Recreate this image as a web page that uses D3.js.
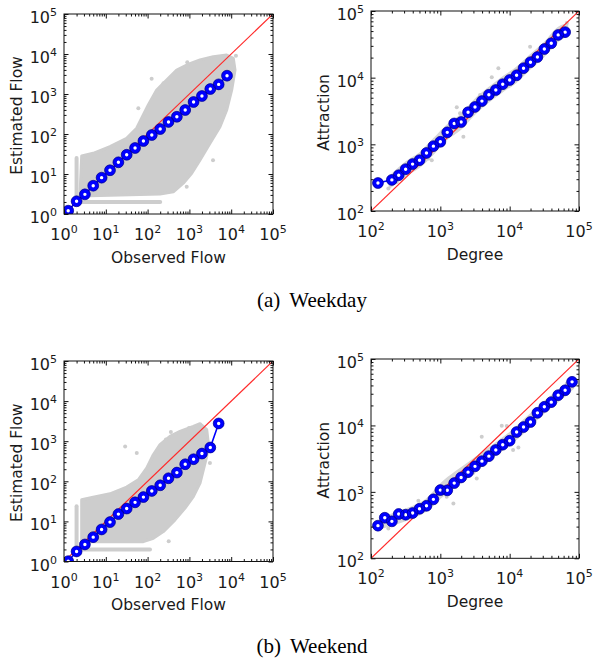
<!DOCTYPE html>
<html>
<head>
<meta charset="utf-8">
<script src="https://cdn.jsdelivr.net/npm/d3@7"></script>
<style>
  body { margin: 0; background: #fff; }
  svg { display: block; }
</style>
</head>
<body>
<div id="chart"></div>
<script>
// 刻度
const flowTicks = [1, 10, 100, 1000, 10000, 100000];
const degreeTicks = [100, 1000, 10000, 100000];

// (a) 平日 - 流量 (log 分箱平均)
const flowBinsX = [1.26, 2.0, 3.16, 5.0, 7.94, 12.6, 20.0, 31.6, 50.1, 79.4, 126, 200, 316, 501, 794, 1259, 1995, 3162, 5012, 7943];
const weekdayFlowY = [1.21, 2.08, 3.1, 5.1, 8.1, 12.4, 19.6, 30.3, 44.7, 66.8, 94.4, 133, 200, 270, 398, 631, 891, 1333, 1740, 2870];

// (a) 平日 - 吸引力
const weekdayDegreeX = [126, 200, 251, 316, 398, 501, 631, 794, 1000, 1259, 1585, 1995, 2512, 3162, 3981, 5012, 6310, 7943, 10000, 12589, 15849, 19953, 25119, 31623, 39811, 50119, 63096];
const weekdayAttrY = [263, 293, 344, 424, 505, 578, 743, 939, 1092, 1512, 2057, 2160, 3030, 3640, 4450, 5540, 6530, 7980, 9230, 10860, 13860, 17050, 20400, 26900, 32800, 43800, 48200];

// (b) 週末 - 流量
const weekendFlowX = [1.26, 2.0, 3.16, 5.0, 7.94, 12.6, 20.0, 31.6, 50.1, 79.4, 126, 200, 316, 501, 794, 1259, 1995, 3162, 5012];
const weekendFlowY = [1.02, 1.78, 2.66, 4.05, 6.3, 9.6, 15.2, 20.9, 29.9, 40.4, 57.4, 79.4, 119, 165, 266, 355, 492, 696, 2770];

// (b) 週末 - 吸引力
const weekendDegreeX = [126, 158, 200, 251, 316, 398, 501, 631, 794, 1000, 1259, 1585, 1995, 2512, 3162, 3981, 5012, 6310, 7943, 10000, 12589, 15849, 19953, 25119, 31623, 39811, 50119, 63096, 79433];
const weekendAttrY = [310, 408, 360, 464, 453, 480, 557, 617, 771, 1064, 1055, 1354, 1648, 1980, 2420, 2900, 3450, 4270, 5130, 5890, 7950, 9450, 11250, 15480, 19060, 22430, 28550, 33850, 45260];

// 灰色散點雲 (輪廓, 資料座標)
const weekdayFlowCloud = [[2.65, 28.2], [5.0, 32.9], [12.6, 48.1], [31.6, 78], [54.8, 139], [78.9, 298], [104, 531], [165, 1259], [286, 2239], [497, 3981], [862, 5309], [1794, 7079], [3733, 8561], [7805, 9441], [11220, 7805], [12330, 3981], [10280, 1259], [7805, 398], [5395, 152], [3110, 58.6], [1794, 22.4], [1135, 10.4], [714, 5.9], [412, 3.6], [198, 3.16], [2.41, 2.82]];
const weekdayFlowStreaks = [[[2, 2], [200, 2]], [[2, 2], [2, 25]]];
const weekdayFlowDots = [[125, 2400], [60, 440], [890, 6200], [2800, 7400], [240, 1850], [3670, 22], [862, 4.8], [13000, 9000]];

const weekendFlowCloud = [[2.65, 34.5], [5.0, 40.3], [12.6, 48.7], [31.6, 71.6], [59.9, 109], [95, 214], [137, 460], [198, 818], [343, 1318], [596, 1758], [1240, 2344], [1794, 2738], [2594, 1939], [2834, 902], [2594, 417], [2153, 194], [1794, 90], [1240, 41.7], [785, 21.4], [453, 10.9], [238, 5.56], [137, 3.8], [79, 3.13], [2.65, 3.13]];
const weekendFlowStreaks = [[[2, 2], [114, 2]], [[2, 2], [2, 24]]];
const weekendFlowDots = [[29, 740], [55, 510], [360, 1700], [980, 2140], [275, 1100], [3100, 285], [320, 3.2], [2200, 300]];

// 灰色帶 [x, 下限, 上限]
const weekdayAttrBand = [[180, 210, 330], [320, 330, 560], [500, 440, 760], [800, 700, 1250], [1250, 1150, 2000], [2000, 1650, 2900], [3100, 2700, 4800], [5000, 4200, 7300], [7900, 6000, 10500], [12300, 8200, 14500], [19600, 13000, 22500], [31700, 20500, 35000], [50000, 34000, 58000], [70000, 42000, 66000]];
const weekdayAttrDots = [[178, 217], [235, 273], [509, 649], [671, 613], [752, 578], [1726, 3590], [2150, 1297], [5520, 10140], [6870, 13830], [9080, 8240], [19700, 29200], [27500, 20700], [66700, 65800], [1923, 2920], [3740, 5500], [1104, 1156], [408, 578], [327, 409], [12650, 13060], [42700, 41400], [22000, 18450]];

const weekendAttrBand = [[150, 280, 420], [250, 330, 520], [400, 400, 620], [630, 500, 800], [1000, 780, 1350], [1600, 1150, 2000], [2500, 1600, 2800], [4000, 2400, 4000], [6300, 3500, 5600], [10000, 5000, 8000], [16000, 7500, 12500], [25000, 12000, 19000], [40000, 18500, 29000], [63000, 27000, 41000], [85000, 36000, 52000]];
const weekendAttrDots = [[178, 282], [482, 735], [509, 597], [1236, 843], [1543, 671], [2990, 1935], [3350, 1596], [3955, 6745], [7690, 9860], [9080, 9770], [13360, 4670], [22000, 13500], [42700, 24000], [66700, 42700], [11200, 4270]];

const captions = [
  { tag: "(a)", text: "Weekday", y: 307 },
  { tag: "(b)", text: "Weekend", y: 653 }
];

const gray = "#cdcdcd";

const panels = [
  { x0: 64, x1: 273, y0: 14, y1: 214, xDom: [1, 1e5], yDom: [1, 1e5], xTicks: flowTicks, yTicks: flowTicks,
    xLabel: "Observed Flow", yLabel: "Estimated Flow", bx: flowBinsX, by: weekdayFlowY,
    cloud: weekdayFlowCloud, streaks: weekdayFlowStreaks, dots: weekdayFlowDots },
  { x0: 371, x1: 579, y0: 11, y1: 211, xDom: [1e2, 1e5], yDom: [1e2, 1e5], xTicks: degreeTicks, yTicks: degreeTicks,
    xLabel: "Degree", yLabel: "Attraction", bx: weekdayDegreeX, by: weekdayAttrY,
    band: weekdayAttrBand, dots: weekdayAttrDots },
  { x0: 64, x1: 273, y0: 361, y1: 561.5, xDom: [1, 1e5], yDom: [1, 1e5], xTicks: flowTicks, yTicks: flowTicks,
    xLabel: "Observed Flow", yLabel: "Estimated Flow", bx: weekendFlowX, by: weekendFlowY,
    cloud: weekendFlowCloud, streaks: weekendFlowStreaks, dots: weekendFlowDots },
  { x0: 371, x1: 579, y0: 359, y1: 558.3, xDom: [1e2, 1e5], yDom: [1e2, 1e5], xTicks: degreeTicks, yTicks: degreeTicks,
    xLabel: "Degree", yLabel: "Attraction", bx: weekendDegreeX, by: weekendAttrY,
    band: weekendAttrBand, dots: weekendAttrDots }
];

const svg = d3.select("#chart")
    .append("svg")
    .attr("width", 593)
    .attr("height", 662)
    .style("background", "#fff");

const isMajor = v => Math.abs(Math.log10(v) - Math.round(Math.log10(v))) < 1e-6;

// 10 的次方標籤
function powerLabel(sel) {
    sel.append("tspan").text("10");
    sel.append("tspan")
        .attr("dy", -7)
        .attr("font-size", 11)
        .text(d => Math.round(Math.log10(d)));
}

function drawPanel(p, i) {
    const x = d3.scaleLog().domain(p.xDom).range([p.x0, p.x1]);
    const y = d3.scaleLog().domain(p.yDom).range([p.y1, p.y0]);
    const g = svg.append("g");

    const clipId = "clip" + i;
    svg.append("clipPath").attr("id", clipId)
        .append("rect")
        .attr("x", p.x0).attr("y", p.y0)
        .attr("width", p.x1 - p.x0).attr("height", p.y1 - p.y0);
    const plot = g.append("g").attr("clip-path", `url(#${clipId})`);

    const line = d3.line().x(d => x(d[0])).y(d => y(d[1]));

    // 灰色散點
    if (p.cloud) {
        plot.append("path")
            .datum(p.cloud)
            .attr("d", line.curve(d3.curveLinearClosed))
            .attr("fill", gray)
            .attr("stroke", gray)
            .attr("stroke-width", 3)
            .attr("stroke-linejoin", "round");
        line.curve(d3.curveLinear);
    }
    if (p.band) {
        plot.append("path")
            .datum(p.band)
            .attr("d", d3.area()
                .x(d => x(d[0]))
                .y0(d => y(d[1]))
                .y1(d => y(d[2]))
                .curve(d3.curveMonotoneX))
            .attr("fill", "#d6d6d6");
    }
    if (p.streaks) {
        plot.selectAll(".streak")
            .data(p.streaks)
            .join("path")
            .attr("d", line)
            .attr("fill", "none")
            .attr("stroke", gray)
            .attr("stroke-width", 4)
            .attr("stroke-linecap", "round");
    }
    plot.selectAll(".dot")
        .data(p.dots)
        .join("circle")
        .attr("cx", d => x(d[0]))
        .attr("cy", d => y(d[1]))
        .attr("r", 2)
        .attr("fill", gray);

    // y = x 參考線
    plot.append("path")
        .datum([[p.xDom[0], p.yDom[0]], [p.xDom[1], p.yDom[1]]])
        .attr("d", line)
        .attr("stroke", "#ff2a2a")
        .attr("stroke-width", 1.2);

    // 分箱平均
    const pts = p.bx.map((v, k) => [v, p.by[k]]);
    plot.append("path")
        .datum(pts)
        .attr("d", line)
        .attr("fill", "none")
        .attr("stroke", "#0000ff")
        .attr("stroke-width", 1.6);
    plot.selectAll(".bin")
        .data(pts)
        .join("circle")
        .attr("cx", d => x(d[0]))
        .attr("cy", d => y(d[1]))
        .attr("r", 3.6)
        .attr("fill", "#fff")
        .attr("stroke", "#0000ff")
        .attr("stroke-width", 3.8);
    plot.selectAll(".rim")
        .data(pts)
        .join("circle")
        .attr("cx", d => x(d[0]))
        .attr("cy", d => y(d[1]))
        .attr("r", 5.4)
        .attr("fill", "none")
        .attr("stroke", "#00008a")
        .attr("stroke-width", 0.7);

    // 刻度 (向內)
    const xMinor = x.ticks().filter(v => !isMajor(v));
    const yMinor = y.ticks().filter(v => !isMajor(v));
    const sides = [
        [d3.axisBottom, x, `translate(0,${p.y1})`, p.xTicks, xMinor],
        [d3.axisTop, x, `translate(0,${p.y0})`, p.xTicks, xMinor],
        [d3.axisLeft, y, `translate(${p.x0},0)`, p.yTicks, yMinor],
        [d3.axisRight, y, `translate(${p.x1},0)`, p.yTicks, yMinor]
    ];
    sides.forEach(([axis, s, tr, major, minor]) => {
        [[major, 4.5], [minor, 2.5]].forEach(([vals, len]) => {
            g.append("g")
                .attr("transform", tr)
                .call(axis(s).tickValues(vals).tickSize(-len).tickFormat(""))
                .call(a => a.select(".domain").remove())
                .selectAll("line")
                .attr("stroke", "#111");
        });
    });

    g.append("rect")
        .attr("x", p.x0).attr("y", p.y0)
        .attr("width", p.x1 - p.x0).attr("height", p.y1 - p.y0)
        .attr("fill", "none")
        .attr("stroke", "#111")
        .attr("stroke-width", 1);

    // 刻度標籤
    g.selectAll(".xt")
        .data(p.xTicks)
        .join("text")
        .attr("x", d => x(d))
        .attr("y", p.y1 + 26)
        .attr("text-anchor", "middle")
        .attr("font-family", "DejaVu Sans")
        .attr("font-size", 16)
        .attr("fill", "#1a1a1a")
        .call(powerLabel);
    g.selectAll(".yt")
        .data(p.yTicks)
        .join("text")
        .attr("x", p.x0 - 7)
        .attr("y", d => y(d) + 9)
        .attr("text-anchor", "end")
        .attr("font-family", "DejaVu Sans")
        .attr("font-size", 16)
        .attr("fill", "#1a1a1a")
        .call(powerLabel);

    // 軸標題
    g.append("text")
        .attr("x", (p.x0 + p.x1) / 2)
        .attr("y", p.y1 + 48.5)
        .attr("text-anchor", "middle")
        .attr("font-family", "DejaVu Sans")
        .attr("font-size", 15.5)
        .attr("fill", "#1a1a1a")
        .text(p.xLabel);
    g.append("text")
        .attr("transform", `translate(${p.x0 - 42.5},${(p.y0 + p.y1) / 2 + 1.5}) rotate(-90)`)
        .attr("text-anchor", "middle")
        .attr("font-family", "DejaVu Sans")
        .attr("font-size", 15.5)
        .attr("fill", "#1a1a1a")
        .text(p.yLabel);
}

panels.forEach(drawPanel);

// 子圖標題
captions.forEach(c => {
    const t = svg.append("text")
        .attr("x", 312)
        .attr("y", c.y)
        .attr("text-anchor", "middle")
        .attr("font-family", "Liberation Serif")
        .attr("font-size", 21)
        .attr("fill", "#000");
    t.append("tspan").text(c.tag);
    t.append("tspan").attr("dx", 9).text(c.text);
});
</script>
</body>
</html>
